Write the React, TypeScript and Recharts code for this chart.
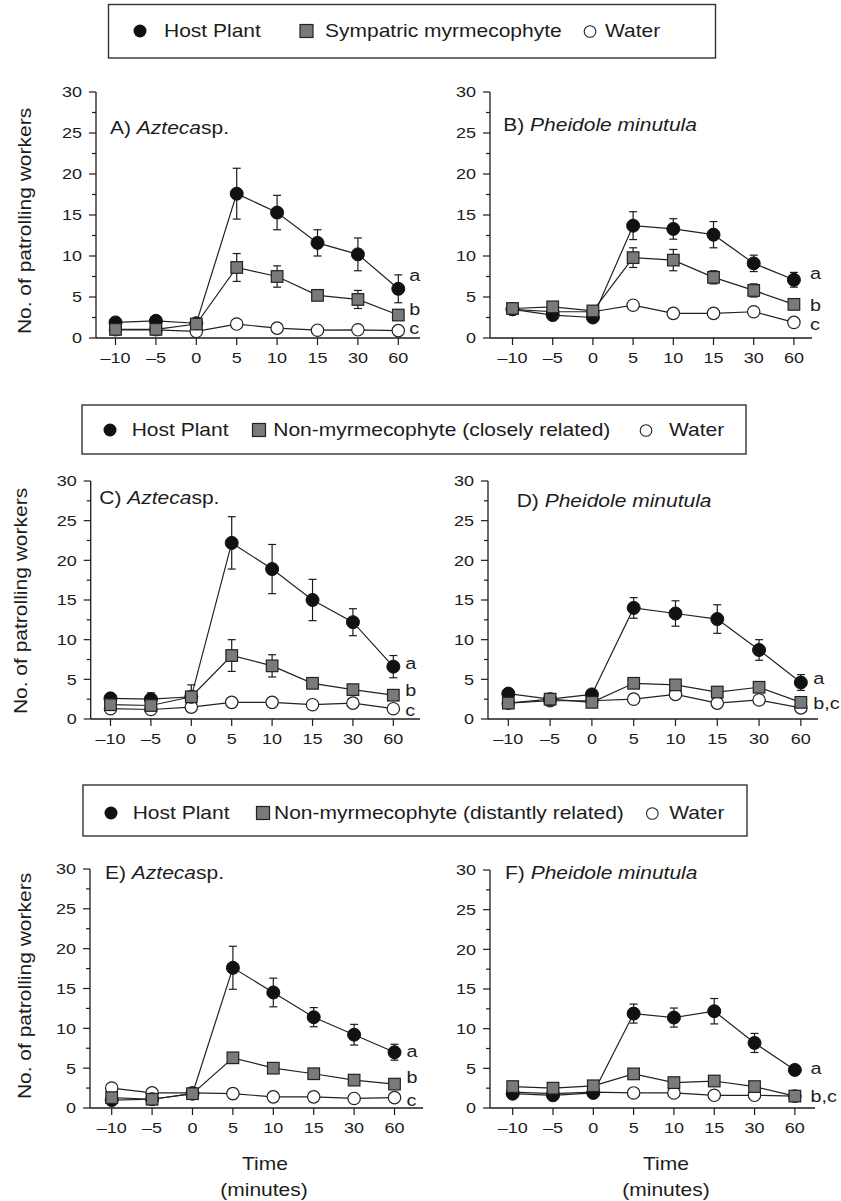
import React from 'react';
import { LineChart, Line, XAxis, YAxis, ErrorBar, LabelList } from 'recharts';

const FONT = '"Liberation Sans", Arial, Helvetica, sans-serif';
const INK = '#1c1c1c';

const TIME_LABELS = ['–10', '–5', '0', '5', '10', '15', '30', '60'];
const X_TICKS = [0, 1, 2, 3, 4, 5, 6, 7];
const Y_TICKS = [0, 2.5, 5, 7.5, 10, 12.5, 15, 17.5, 20, 22.5, 25, 27.5, 30];

// Panel A – Azteca sp., sympatric myrmecophyte
const A_HOST = [1.9, 2.1, 1.8, 17.6, 15.3, 11.6, 10.2, 6.0];
const A_HOST_SE = [0, 0, 0, 3.1, 2.1, 1.6, 2.0, 1.7];
const A_SYM = [1.05, 1.05, 1.7, 8.6, 7.5, 5.2, 4.7, 2.8];
const A_SYM_SE = [0, 0, 0, 1.7, 1.3, 0.3, 1.1, 0.4];
const A_WATER = [1.0, 1.0, 0.8, 1.7, 1.2, 0.95, 1.0, 0.9];

// Panel B – Pheidole minutula, sympatric myrmecophyte
const B_HOST = [3.5, 2.8, 2.5, 13.7, 13.3, 12.6, 9.1, 7.1];
const B_HOST_SE = [0, 0, 0, 1.7, 1.25, 1.6, 1.0, 0.9];
const B_SYM = [3.6, 3.8, 3.3, 9.8, 9.5, 7.4, 5.8, 4.1];
const B_SYM_SE = [0, 0, 0, 1.2, 1.3, 0.8, 0.8, 0.3];
const B_WATER = [3.5, 3.2, 3.2, 4.0, 3.0, 3.0, 3.2, 1.9];

// Panel C – Azteca sp., non-myrmecophyte (closely related)
const C_HOST = [2.6, 2.5, 2.8, 22.2, 18.9, 15.0, 12.2, 6.6];
const C_HOST_SE = [0.3, 0.8, 0, 3.3, 3.1, 2.6, 1.7, 1.4];
const C_SYM = [1.8, 1.7, 2.8, 8.0, 6.7, 4.5, 3.7, 3.0];
const C_SYM_SE = [0.5, 0.5, 1.5, 2.0, 1.4, 0.3, 0.3, 0.3];
const C_WATER = [1.3, 1.2, 1.5, 2.1, 2.1, 1.8, 2.0, 1.3];

// Panel D – Pheidole minutula, non-myrmecophyte (closely related)
const D_HOST = [3.2, 2.5, 3.1, 14.0, 13.3, 12.6, 8.7, 4.6];
const D_HOST_SE = [0, 0, 0, 1.3, 1.6, 1.8, 1.3, 1.0];
const D_SYM = [2.0, 2.5, 2.1, 4.5, 4.3, 3.4, 4.0, 2.1];
const D_SYM_SE = [0, 0, 0, 0, 0, 0, 0, 0];
const D_WATER = [2.0, 2.3, 2.3, 2.5, 3.1, 2.0, 2.4, 1.4];

// Panel E – Azteca sp., non-myrmecophyte (distantly related)
const E_HOST = [1.0, 1.1, 1.8, 17.6, 14.5, 11.4, 9.2, 7.0];
const E_HOST_SE = [0, 0, 0, 2.7, 1.8, 1.2, 1.3, 1.0];
const E_SYM = [1.3, 1.1, 1.8, 6.3, 5.0, 4.3, 3.5, 3.0];
const E_SYM_SE = [0, 0, 0, 0, 0, 0, 0, 0];
const E_WATER = [2.5, 1.9, 1.9, 1.8, 1.4, 1.4, 1.2, 1.3];

// Panel F – Pheidole minutula, non-myrmecophyte (distantly related)
const F_HOST = [1.8, 1.6, 1.9, 11.9, 11.4, 12.2, 8.2, 4.8];
const F_HOST_SE = [0, 0, 0, 1.2, 1.2, 1.6, 1.2, 0.2];
const F_SYM = [2.7, 2.5, 2.8, 4.3, 3.2, 3.4, 2.7, 1.5];
const F_SYM_SE = [0, 0, 0, 0, 0, 0, 0, 0];
const F_WATER = [2.0, 1.8, 2.0, 1.9, 1.9, 1.6, 1.6, 1.5];

const buildData = (host: number[], hostSE: number[], sym: number[], symSE: number[], water: number[]) =>
  TIME_LABELS.map((_, i) => ({ i, host: host[i], hostSE: hostSE[i], sym: sym[i], symSE: symSE[i], water: water[i] }));

type Letter = { text: string; dx: number; dy: number } | null;

type PanelCfg = {
  box: { x: number; y: number; w: number; h: number };
  plot: { L: number; T: number; R: number; B: number };
  xDomain: [number, number];
  data: any[];
  letters: { host: Letter; sym: Letter; water: Letter };
};

const PANELS: PanelCfg[] = [
  {
    box: { x: 0, y: 62, w: 430, h: 318 },
    plot: { L: 96, T: 92, R: 420, B: 338 },
    xDomain: [-0.483, 7.537],
    data: buildData(A_HOST, A_HOST_SE, A_SYM, A_SYM_SE, A_WATER),
    letters: { host: { text: 'a', dx: 11, dy: -7.8 }, sym: { text: 'b', dx: 11, dy: 0 }, water: { text: 'c', dx: 11, dy: 3.8 } },
  },
  {
    box: { x: 430, y: 62, w: 411, h: 318 },
    plot: { L: 490, T: 92, R: 812, B: 338 },
    xDomain: [-0.56, 7.45],
    data: buildData(B_HOST, B_HOST_SE, B_SYM, B_SYM_SE, B_WATER),
    letters: { host: { text: 'a', dx: 16, dy: -0.5 }, sym: { text: 'b', dx: 16, dy: 7 }, water: { text: 'c', dx: 16, dy: 8 } },
  },
  {
    box: { x: 0, y: 460, w: 430, h: 320 },
    plot: { L: 90.7, T: 481, R: 420, B: 719 },
    xDomain: [-0.49, 7.66],
    data: buildData(C_HOST, C_HOST_SE, C_SYM, C_SYM_SE, C_WATER),
    letters: { host: { text: 'a', dx: 12, dy: 2.5 }, sym: { text: 'b', dx: 12, dy: 0.5 }, water: { text: 'c', dx: 12, dy: 7 } },
  },
  {
    box: { x: 430, y: 460, w: 411, h: 320 },
    plot: { L: 488, T: 481, R: 818, B: 719 },
    xDomain: [-0.486, 7.41],
    data: buildData(D_HOST, D_HOST_SE, D_SYM, D_SYM_SE, D_WATER),
    letters: { host: { text: 'a', dx: 12.3, dy: 1.2 }, sym: { text: 'b,c', dx: 12.3, dy: 6.5 }, water: null },
  },
  {
    box: { x: 0, y: 840, w: 430, h: 361 },
    plot: { L: 90, T: 869, R: 423, B: 1108 },
    xDomain: [-0.537, 7.705],
    data: buildData(E_HOST, E_HOST_SE, E_SYM, E_SYM_SE, E_WATER),
    letters: { host: { text: 'a', dx: 12, dy: 4.5 }, sym: { text: 'b', dx: 12, dy: -1.2 }, water: { text: 'c', dx: 12, dy: 8 } },
  },
  {
    box: { x: 430, y: 840, w: 411, h: 361 },
    plot: { L: 490, T: 870, R: 815, B: 1108 },
    xDomain: [-0.563, 7.5],
    data: buildData(F_HOST, F_HOST_SE, F_SYM, F_SYM_SE, F_WATER),
    letters: { host: { text: 'a', dx: 15.7, dy: 4.5 }, sym: { text: 'b,c', dx: 15.7, dy: 5.5 }, water: null },
  },
];

const wide = (x: number, y: number, rot = false) =>
  rot ? `translate(${x},${y}) rotate(-90) scale(1.2,1)` : `translate(${x},${y}) scale(1.2,1)`;

const YTick = (props: any) => {
  const { x, y, payload } = props;
  const v = payload.value;
  const major = v % 5 === 0;
  return (
    <g>
      <line x1={x - (major ? 7 : 4)} x2={x} y1={y} y2={y} stroke={INK} strokeWidth={1.2} />
      {major && (
        <text transform={wide(x - 14, y + 5.4)} textAnchor="end" fontSize={15} fontFamily={FONT} fill={INK}>
          {v}
        </text>
      )}
    </g>
  );
};

const XTick = (props: any) => {
  const { x, y, payload } = props;
  return (
    <g>
      <line x1={x} x2={x} y1={y} y2={y + 7} stroke={INK} strokeWidth={1.2} />
      <text transform={wide(x, y + 25)} textAnchor="middle" fontSize={15} fontFamily={FONT} fill={INK}>
        {TIME_LABELS[payload.value]}
      </text>
    </g>
  );
};

const HostDot = (p: any) =>
  p.cx == null ? <g key={`h${p.index}`} /> : <circle key={`h${p.index}`} cx={p.cx} cy={p.cy} r={6.5} fill="#111" stroke="#111" strokeWidth={1} />;
const SymDot = (p: any) =>
  p.cx == null ? <g key={`s${p.index}`} /> : (
    <rect key={`s${p.index}`} x={p.cx - 5.8} y={p.cy - 5.8} width={11.6} height={11.6} fill="#7a7a7a" stroke="#222" strokeWidth={1.2} />
  );
const WaterDot = (p: any) =>
  p.cx == null ? <g key={`w${p.index}`} /> : <circle key={`w${p.index}`} cx={p.cx} cy={p.cy} r={6.2} fill="#fff" stroke="#222" strokeWidth={1.2} />;

const letterContent = (spec: Letter) => (props: any) => {
  if (!spec || props.index !== 7) return null;
  const px = props.x ?? props.viewBox?.x;
  const py = props.y ?? props.viewBox?.y;
  if (px == null || py == null) return null;
  return (
    <text transform={wide(px + spec.dx, py + spec.dy)} fontSize={16.5} fontFamily={FONT} fill={INK}>
      {spec.text}
    </text>
  );
};

function Panel({ cfg }: { cfg: PanelCfg }) {
  const { box, plot, xDomain, data, letters } = cfg;
  const margin = {
    left: plot.L - box.x - 40,
    top: plot.T - box.y,
    right: box.x + box.w - plot.R,
    bottom: box.y + box.h - plot.B - 30,
  };
  const lineProps = { stroke: '#222', strokeWidth: 1.2, activeDot: false as any, isAnimationActive: false, type: 'linear' as const };
  return (
    <div style={{ position: 'absolute', left: box.x, top: box.y, width: box.w, height: box.h }}>
      <LineChart width={box.w} height={box.h} data={data} margin={margin}>
        <XAxis
          dataKey="i"
          type="number"
          domain={xDomain}
          ticks={X_TICKS}
          interval={0}
          allowDataOverflow
          tick={XTick}
          tickLine={false}
          tickSize={0}
          tickMargin={0}
          height={30}
          axisLine={{ stroke: INK, strokeWidth: 1.3 }}
        />
        <YAxis
          type="number"
          domain={[0, 30]}
          ticks={Y_TICKS}
          interval={0}
          allowDataOverflow
          tick={YTick}
          tickLine={false}
          tickSize={0}
          tickMargin={0}
          width={40}
          axisLine={{ stroke: INK, strokeWidth: 1.3 }}
        />
        <Line dataKey="water" {...lineProps} dot={WaterDot}>
          <LabelList dataKey="water" content={letterContent(letters.water)} />
        </Line>
        <Line dataKey="host" {...lineProps} dot={HostDot}>
          <ErrorBar dataKey="hostSE" width={4} stroke={INK} strokeWidth={1.2} direction="y" />
          <LabelList dataKey="host" content={letterContent(letters.host)} />
        </Line>
        <Line dataKey="sym" {...lineProps} dot={SymDot}>
          <ErrorBar dataKey="symSE" width={4} stroke={INK} strokeWidth={1.2} direction="y" />
          <LabelList dataKey="sym" content={letterContent(letters.sym)} />
        </Line>
      </LineChart>
    </div>
  );
}

const T = ({ x, y, size = 17.5, anchor = 'start', rot = false, children }: any) => (
  <text transform={wide(x, y, rot)} fontSize={size} textAnchor={anchor} fontFamily={FONT} fill={INK}>
    {children}
  </text>
);

const LegendRow = ({ box, cy, host, hostText, sq, sqText, sqLabel, water, waterText }: any) => (
  <g>
    <rect x={box[0]} y={box[1]} width={box[2]} height={box[3]} fill="#fff" stroke="#333" strokeWidth={1.4} />
    <circle cx={host} cy={cy} r={6.5} fill="#111" />
    <T x={hostText} y={cy + 6.3}>Host Plant</T>
    <rect x={sq - 6.5} y={cy - 6.5} width={13} height={13} fill="#7a7a7a" stroke="#222" strokeWidth={1.2} />
    <T x={sqText} y={cy + 6.3}>{sqLabel}</T>
    <circle cx={water} cy={cy + 0.5} r={5.8} fill="#fff" stroke="#222" strokeWidth={1.1} />
    <T x={waterText} y={cy + 6.3}>Water</T>
  </g>
);

function Overlay() {
  return (
    <svg width={841} height={1201} style={{ position: 'absolute', left: 0, top: 0, pointerEvents: 'none' }}>
      <LegendRow box={[108.5, 4.5, 607, 53.5]} cy={31} host={140} hostText={164} sq={306.5} sqText={325} sqLabel="Sympatric myrmecophyte" water={590} waterText={605} />
      <LegendRow box={[82, 405, 664, 49]} cy={430} host={110} hostText={131.7} sq={259} sqText={273.3} sqLabel="Non-myrmecophyte (closely related)" water={646} waterText={669} />
      <LegendRow box={[83, 785, 664, 51]} cy={813} host={111} hostText={132.7} sq={263} sqText={274} sqLabel="Non-myrmecophyte (distantly related)" water={652.3} waterText={669.3} />

      <T x={31} y={221} anchor="middle" rot>No. of patrolling workers</T>
      <T x={27} y={601} anchor="middle" rot>No. of patrolling workers</T>
      <T x={31} y={986} anchor="middle" rot>No. of patrolling workers</T>

      <T x={110} y={134.3}>A) <tspan fontStyle="italic">Azteca</tspan>sp.</T>
      <T x={503.3} y={131}>B) <tspan fontStyle="italic">Pheidole minutula</tspan></T>
      <T x={99.3} y={504.3}>C) <tspan fontStyle="italic">Azteca</tspan>sp.</T>
      <T x={516.7} y={506.7}>D) <tspan fontStyle="italic">Pheidole minutula</tspan></T>
      <T x={105} y={879.3}>E) <tspan fontStyle="italic">Azteca</tspan>sp.</T>
      <T x={505} y={879.3}>F) <tspan fontStyle="italic">Pheidole minutula</tspan></T>

      <T x={265} y={1170} anchor="middle">Time</T>
      <T x={264} y={1196} anchor="middle">(minutes)</T>
      <T x={666} y={1170} anchor="middle">Time</T>
      <T x={666} y={1196} anchor="middle">(minutes)</T>
    </svg>
  );
}

export default function App() {
  return (
    <div style={{ position: 'absolute', left: 0, top: 0, width: 841, height: 1201, background: '#fff', overflow: 'hidden' }}>
      {PANELS.map((cfg, k) => (
        <Panel key={k} cfg={cfg} />
      ))}
      <Overlay />
    </div>
  );
}
